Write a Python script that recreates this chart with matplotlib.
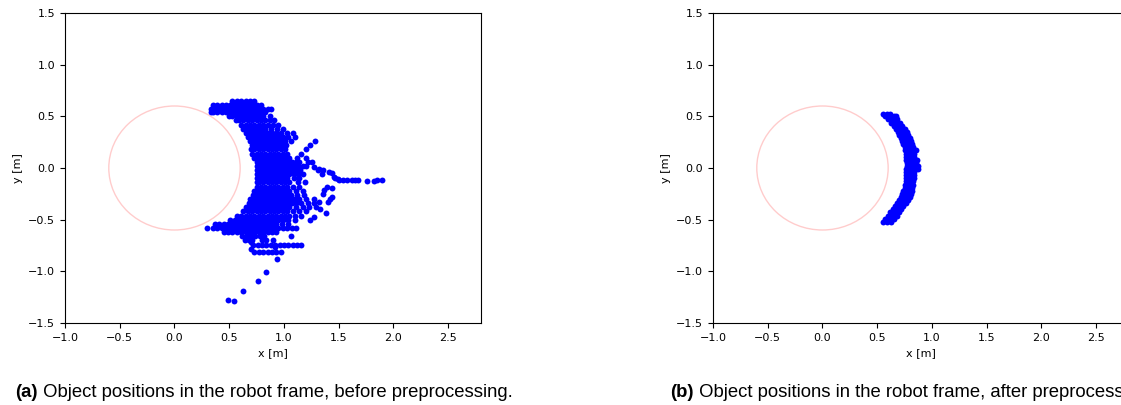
import matplotlib
matplotlib.use("Agg")
import matplotlib.pyplot as plt
from matplotlib.patches import Circle

# ---------------- data ----------------
x_lim = (-1.0, 2.8)
y_lim = (-1.5, 1.5)
x_ticks = [-1.0, -0.5, 0.0, 0.5, 1.0, 1.5, 2.0, 2.5]
y_ticks = [-1.5, -1.0, -0.5, 0.0, 0.5, 1.0, 1.5]
robot_center = (0.0, 0.0)
robot_radius = 0.6

# panel (a): raw object positions, rows of (y, [x ...])
raw_rows = [
    (0.645, [0.53, 0.57, 0.61, 0.65, 0.69, 0.73]),
    (0.605, [0.35, 0.39, 0.43, 0.47, 0.51, 0.55, 0.59, 0.63, 0.67, 0.71, 0.75, 0.79]),
    (0.575, [0.33, 0.37, 0.41, 0.45, 0.49, 0.53, 0.57, 0.61, 0.65, 0.69, 0.73, 0.77, 0.81, 0.85, 0.88]),
    (0.54, [0.33, 0.35, 0.39, 0.43, 0.47, 0.51, 0.55, 0.59, 0.63, 0.67, 0.71, 0.75, 0.79, 0.83]),
    (0.50, [0.50, 0.53, 0.57, 0.61, 0.65, 0.69, 0.73, 0.77, 0.81, 0.87]),
    (0.46, [0.56, 0.59, 0.63, 0.67, 0.71, 0.75, 0.79, 0.83, 0.87, 0.91]),
    (0.42, [0.61, 0.65, 0.69, 0.73, 0.77, 0.81, 0.85, 0.90, 0.95]),
    (0.38, [0.63, 0.67, 0.71, 0.75, 0.79, 0.83, 0.88, 0.94, 0.99]),
    (0.34, [0.65, 0.69, 0.73, 0.77, 0.81, 0.85, 0.89, 0.93, 0.97, 1.03, 1.08]),
    (0.30, [0.67, 0.71, 0.75, 0.79, 0.83, 0.87, 0.91, 0.95, 0.99, 1.04, 1.10]),
    (0.26, [0.69, 0.73, 0.77, 0.81, 0.85, 0.89, 0.93, 0.97, 1.01, 1.06, 1.28]),
    (0.22, [0.71, 0.75, 0.79, 0.83, 0.87, 0.91, 0.95, 0.99, 1.02, 1.24]),
    (0.18, [0.70, 0.73, 0.77, 0.81, 0.85, 0.89, 0.93, 0.97, 1.01, 1.20]),
    (0.14, [0.71, 0.75, 0.79, 0.83, 0.87, 0.91, 0.95, 0.99, 1.03, 1.16]),
    (0.10, [0.73, 0.77, 0.81, 0.85, 0.89, 0.93, 0.97, 1.01, 1.05, 1.12, 1.20]),
    (0.06, [0.75, 0.79, 0.83, 0.87, 0.91, 0.95, 0.99, 1.03, 1.07, 1.11, 1.14, 1.22, 1.26]),
    (0.02, [0.75, 0.77, 0.81, 0.85, 0.89, 0.93, 0.97, 1.01, 1.05, 1.09, 1.13, 1.17, 1.20]),
    (-0.02, [0.75, 0.79, 0.83, 0.87, 0.91, 0.95, 0.99, 1.03, 1.07, 1.11, 1.15]),
    (-0.06, [0.75, 0.77, 0.81, 0.85, 0.89, 0.93, 0.97, 1.01, 1.05, 1.09, 1.13, 1.17]),
    (-0.10, [0.75, 0.79, 0.83, 0.87, 0.91, 0.95, 0.99, 1.03, 1.09, 1.14]),
    (-0.14, [0.75, 0.77, 0.81, 0.85, 0.89, 0.93, 0.97, 1.01, 1.05, 1.13, 1.19]),
    (-0.18, [0.75, 0.79, 0.83, 0.87, 0.91, 0.95, 0.99, 1.03, 1.08, 1.14]),
    (-0.22, [0.73, 0.77, 0.81, 0.85, 0.89, 0.93, 0.97, 1.01, 1.05, 1.11, 1.17]),
    (-0.26, [0.72, 0.75, 0.79, 0.83, 0.87, 0.91, 0.95, 0.99, 1.03, 1.06, 1.12, 1.18]),
    (-0.30, [0.69, 0.73, 0.77, 0.81, 0.85, 0.89, 0.93, 0.97, 1.01, 1.05, 1.09, 1.14, 1.20, 1.27]),
    (-0.34, [0.68, 0.71, 0.75, 0.79, 0.83, 0.87, 0.91, 0.95, 0.99, 1.03, 1.07, 1.11, 1.16, 1.22, 1.27]),
    (-0.38, [0.65, 0.69, 0.73, 0.77, 0.81, 0.85, 0.89, 0.93, 0.97, 1.01, 1.05, 1.11, 1.17, 1.23]),
    (-0.42, [0.63, 0.67, 0.71, 0.75, 0.79, 0.83, 0.87, 0.91, 0.95, 0.99, 1.03, 1.08, 1.14, 1.20]),
    (-0.46, [0.57, 0.61, 0.65, 0.69, 0.73, 0.77, 0.81, 0.85, 0.89, 0.93, 0.97, 1.01, 1.05, 1.10, 1.16]),
    (-0.50, [0.51, 0.55, 0.59, 0.63, 0.67, 0.71, 0.75, 0.79, 0.83, 0.87, 0.91, 0.95, 0.99, 1.04, 1.10]),
    (-0.54, [0.37, 0.41, 0.45, 0.49, 0.53, 0.57, 0.61, 0.65, 0.69, 0.73, 0.77, 0.81, 0.85, 0.89,
             0.93, 0.98, 1.04]),
    (-0.58, [0.30, 0.35, 0.39, 0.43, 0.47, 0.51, 0.55, 0.59, 0.63, 0.67, 0.71, 0.75, 0.79, 0.83,
             0.87, 0.91, 0.95, 0.99, 1.03, 1.07, 1.11]),
    (-0.62, [0.45, 0.49, 0.53, 0.57, 0.61, 0.65, 0.69, 0.73, 0.77, 0.81, 0.85, 0.89, 0.93]),
    (-0.66, [0.62, 0.66, 0.70, 0.74, 0.78, 0.82, 1.06]),
    (-0.70, [0.64, 0.68, 0.71, 0.80, 0.84]),
    (-0.745, [0.72, 0.76, 0.80, 0.84, 0.88, 0.92, 0.96, 1.00, 1.04, 1.08, 1.12, 1.16]),
    (-0.81, [0.73, 0.77, 0.81, 0.85, 0.89, 0.93, 0.97]),
]

# panel (a): sparse points off the main cloud
raw_extra_x = [0.70, 0.70, 0.90, 0.92, 0.94, 0.84, 0.76, 0.63, 0.49, 0.54,
               1.27, 1.32, 1.36, 1.41, 1.44, 1.46, 1.49,
               1.50, 1.54, 1.58, 1.62, 1.65, 1.68, 1.76, 1.82, 1.85, 1.90,
               1.39, 1.37, 1.44, 1.36, 1.44, 1.32, 1.40, 1.29, 1.27, 1.24,
               1.31, 1.35, 1.42, 1.47, 1.33, 1.38]
raw_extra_y = [-0.72, -0.78, -0.70, -0.76, -0.88, -1.01, -1.09, -1.19, -1.28, -1.29,
               0.01, -0.01, -0.02, -0.04, -0.05, -0.09, -0.11,
               -0.12, -0.12, -0.12, -0.12, -0.12, -0.12, -0.13, -0.13, -0.12, -0.12,
               -0.18, -0.21, -0.19, -0.25, -0.28, -0.33, -0.33, -0.38, -0.47, -0.50,
               -0.02, -0.06, -0.30, -0.10, -0.40, -0.44]

# panel (b): filtered object positions, rows of (y, [x ...])
clean_rows = [
    (0.52, [0.55, 0.59, 0.62]),
    (0.50, [0.57, 0.61, 0.65, 0.67]),
    (0.47, [0.60, 0.64, 0.68]),
    (0.44, [0.63, 0.67, 0.71]),
    (0.41, [0.65, 0.69, 0.73]),
    (0.38, [0.67, 0.71, 0.75]),
    (0.35, [0.69, 0.73, 0.77]),
    (0.32, [0.70, 0.74, 0.78]),
    (0.29, [0.72, 0.76, 0.80]),
    (0.26, [0.73, 0.77, 0.81]),
    (0.23, [0.74, 0.78, 0.82]),
    (0.20, [0.75, 0.79, 0.83]),
    (0.17, [0.75, 0.79, 0.83, 0.85]),
    (0.14, [0.76, 0.80, 0.84]),
    (0.11, [0.76, 0.80, 0.84]),
    (0.08, [0.76, 0.80, 0.84, 0.86]),
    (0.05, [0.77, 0.81, 0.85]),
    (0.02, [0.77, 0.81, 0.85, 0.87]),
    (-0.01, [0.76, 0.80, 0.84, 0.87]),
    (-0.04, [0.76, 0.80, 0.84]),
    (-0.07, [0.76, 0.80, 0.84]),
    (-0.10, [0.76, 0.80, 0.84]),
    (-0.13, [0.76, 0.80, 0.83]),
    (-0.16, [0.75, 0.79, 0.83]),
    (-0.19, [0.75, 0.79, 0.82]),
    (-0.22, [0.74, 0.78, 0.82]),
    (-0.25, [0.73, 0.77, 0.81]),
    (-0.28, [0.72, 0.76, 0.80]),
    (-0.31, [0.70, 0.74, 0.78]),
    (-0.34, [0.68, 0.72, 0.76]),
    (-0.37, [0.66, 0.70, 0.74]),
    (-0.40, [0.64, 0.68, 0.72]),
    (-0.43, [0.62, 0.66, 0.70]),
    (-0.46, [0.60, 0.64, 0.68]),
    (-0.49, [0.57, 0.61, 0.65]),
    (-0.52, [0.55, 0.59, 0.63]),
]

caption_a = ("(a)", " Object positions in the robot frame, before preprocessing.")
caption_b = ("(b)", " Object positions in the robot frame, after preprocessing.")


def flatten(rows):
    xs, ys = [], []
    for y, row in rows:
        for x in row:
            xs.append(x)
            ys.append(y)
    return xs, ys


# ---------------- figure ----------------
W, H = 1121, 405
fig = plt.figure(figsize=(W / 100, H / 100), dpi=100)

ax_a = fig.add_axes([65 / W, 1 - 323 / H, 416 / W, 310 / H])
ax_b = fig.add_axes([713 / W, 1 - 323 / H, 416 / W, 310 / H])

raw_x, raw_y = flatten(raw_rows)
raw_x += raw_extra_x
raw_y += raw_extra_y
clean_x, clean_y = flatten(clean_rows)

for ax, xs, ys in [(ax_a, raw_x, raw_y), (ax_b, clean_x, clean_y)]:
    ax.add_patch(Circle(robot_center, robot_radius, fill=False,
                        edgecolor="#ffcccc", linewidth=1.0))
    ax.scatter(xs, ys, s=18, color="blue", linewidths=0, zorder=3)
    ax.set_xlim(*x_lim)
    ax.set_ylim(*y_lim)
    ax.set_xticks(x_ticks)
    ax.set_yticks(y_ticks)
    ax.tick_params(labelsize=8)
    ax.set_xlabel("x [m]", fontsize=8)
    ax.set_ylabel("y [m]", fontsize=8)

cap_font = "Liberation Sans"
for (bold, rest), xpx in [(caption_a, 15), (caption_b, 670)]:
    t = fig.text(xpx / W, 1 - 397 / H, bold, fontsize=13.3, fontweight="bold",
                 family=cap_font, va="baseline", ha="left")
    fig.add_artist(plt.Annotation(rest, xy=(1, 0), xycoords=t,
                                  va="bottom", ha="left", fontsize=13.3,
                                  family=cap_font))

fig.savefig("out.png", dpi=100)
